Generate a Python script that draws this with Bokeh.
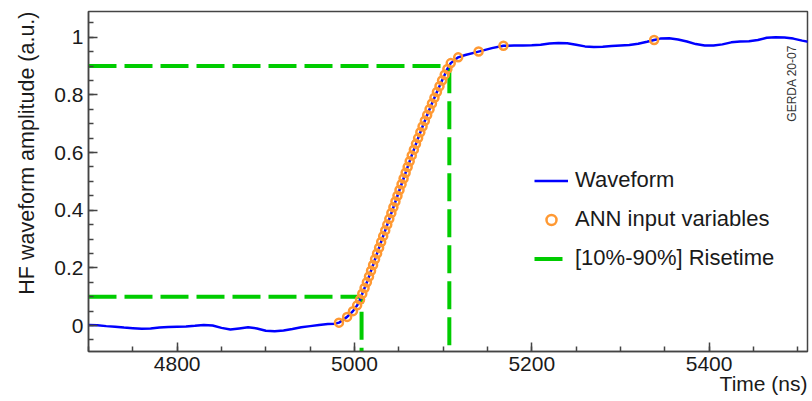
import math
from bokeh.plotting import figure
from bokeh.models import FixedTicker, Label, Legend, LegendItem, Range1d, Title
from bokeh.embed import file_html
from bokeh.resources import INLINE

# ---------------- data ----------------
# baseline part of the waveform (time in ns, normalised amplitude)
base_t = [4700, 4710, 4720, 4730, 4740, 4750, 4760, 4770, 4780, 4790,
          4800, 4810, 4820, 4830, 4840, 4850, 4860, 4870, 4880, 4890,
          4900, 4910, 4920, 4930, 4940, 4950, 4960, 4970, 4978]
base_v = [0.002, 0.001, -0.002, -0.004, -0.007, -0.009, -0.011, -0.010, -0.007, -0.005,
          -0.004, -0.003, -0.001, 0.002, 0.000, -0.008, -0.014, -0.010, -0.006, -0.010,
          -0.018, -0.020, -0.017, -0.012, -0.006, -0.002, 0.002, 0.005, 0.006]

# flat top part of the waveform
top_t = [5125, 5155, 5180, 5190, 5200, 5210, 5220, 5230, 5240, 5250,
         5260, 5270, 5280, 5290, 5300, 5310, 5320, 5330, 5345, 5355,
         5365, 5375, 5385, 5395, 5405, 5415, 5425, 5435, 5445, 5455,
         5465, 5475, 5485, 5495, 5505, 5512]
top_v = [0.938, 0.962, 0.971, 0.971, 0.972, 0.974, 0.978, 0.980, 0.979, 0.974,
         0.968, 0.966, 0.967, 0.969, 0.971, 0.973, 0.977, 0.984, 0.995, 0.996,
         0.992, 0.985, 0.976, 0.971, 0.971, 0.975, 0.982, 0.985, 0.986, 0.990,
         0.998, 1.000, 0.999, 0.995, 0.988, 0.984]

# ANN input variables: times where the pulse reaches 1%, 3%, ..., 99%
ann_v = [0.01, 0.03, 0.05, 0.07, 0.09, 0.11, 0.13, 0.15, 0.17, 0.19,
         0.21, 0.23, 0.25, 0.27, 0.29, 0.31, 0.33, 0.35, 0.37, 0.39,
         0.41, 0.43, 0.45, 0.47, 0.49, 0.51, 0.53, 0.55, 0.57, 0.59,
         0.61, 0.63, 0.65, 0.67, 0.69, 0.71, 0.73, 0.75, 0.77, 0.79,
         0.81, 0.83, 0.85, 0.87, 0.89, 0.91, 0.93, 0.95, 0.97, 0.99]
ann_t = [4982.5, 4991.7, 4998.3, 5003.0, 5006.3, 5008.8, 5011.4, 5014.0, 5016.4, 5018.7,
         5021.0, 5023.2, 5025.5, 5027.8, 5030.1, 5032.4, 5034.7, 5037.0, 5039.3, 5041.6,
         5043.9, 5046.2, 5048.5, 5050.8, 5053.1, 5055.4, 5057.7, 5060.0, 5062.3, 5064.6,
         5067.0, 5069.4, 5071.8, 5074.3, 5076.8, 5079.4, 5082.0, 5084.7, 5087.4, 5090.2,
         5093.0, 5095.9, 5098.8, 5101.8, 5104.8, 5108.6, 5117.0, 5140.0, 5168.0, 5338.0]

# 10% and 90% risetime points
rise_level = [0.1, 0.9]
rise_t = [5008, 5107]

x_major = [4800, 5000, 5200, 5400]
x_minor = [4700, 4750, 4800, 4850, 4900, 4950, 5000, 5050, 5100, 5150,
           5200, 5250, 5300, 5350, 5400, 5450, 5500]
y_major = [0, 0.2, 0.4, 0.6, 0.8, 1]
y_labels = ["0", "0.2", "0.4", "0.6", "0.8", "1"]
y_minor = [-0.05, 0, 0.05, 0.1, 0.15, 0.2, 0.25, 0.3, 0.35, 0.4, 0.45, 0.5,
           0.55, 0.6, 0.65, 0.7, 0.75, 0.8, 0.85, 0.9, 0.95, 1.0, 1.05]

X_START, X_END = 4700, 5511
Y_START, Y_END = -0.09, 1.089

# ---------------- figure ----------------
FONT = "Liberation Sans"
TXT = "#1a1a1a"
FRAME = "#444444"

p = figure(width=810, height=399,
           x_range=Range1d(X_START, X_END), y_range=Range1d(Y_START, Y_END),
           output_backend="svg", toolbar_location=None,
           min_border_left=87, min_border_right=3,
           min_border_top=11, min_border_bottom=48)
p.grid.visible = False
p.outline_line_color = FRAME
p.outline_line_width = 1.5
p.background_fill_color = "white"
p.border_fill_color = "white"

for ax in (p.xaxis, p.yaxis):
    ax.axis_line_color = FRAME
    ax.axis_line_width = 1.5
    ax.major_tick_line_color = FRAME
    ax.minor_tick_line_color = FRAME
    ax.major_tick_line_width = 1.5
    ax.minor_tick_line_width = 1.5
    ax.major_tick_in = 9
    ax.major_tick_out = 0
    ax.minor_tick_in = 5
    ax.minor_tick_out = 0
    ax.major_label_text_font = FONT
    ax.major_label_text_font_size = "21px"
    ax.major_label_text_color = TXT
    ax.major_label_standoff = 5

p.xaxis.ticker = FixedTicker(ticks=x_major, minor_ticks=x_minor)
p.yaxis.ticker = FixedTicker(ticks=y_major, minor_ticks=y_minor)
p.yaxis.major_label_overrides = {v: s for v, s in zip(y_major, y_labels)}

# risetime lines
xs = [[X_START, t, t] for t in rise_t]
ys = [[lv, lv, Y_START] for lv in rise_level]
r_rise = p.multi_line(xs, ys, line_color="#00cc00", line_width=4, line_dash="28 8")

# waveform
pts = sorted(zip(base_t + ann_t + top_t, base_v + ann_v + top_v))
r_wave = p.line([a for a, _ in pts], [b for _, b in pts], line_color="#0000ff", line_width=2.5)

# ANN markers
r_ann = p.scatter(ann_t, ann_v, marker="circle", size=8, fill_color=None,
                  line_color="#ff9933", line_width=2.5)

legend = Legend(items=[LegendItem(label="Waveform", renderers=[r_wave]),
                       LegendItem(label="ANN input variables", renderers=[r_ann]),
                       LegendItem(label="[10%-90%] Risetime", renderers=[r_rise])],
                location=(446, 80), padding=0, margin=0, spacing=13,
                glyph_width=34, glyph_height=25, label_height=25, label_standoff=7,
                label_text_font=FONT, label_text_font_size="22px", label_text_color=TXT,
                background_fill_alpha=0, border_line_alpha=0)
p.add_layout(legend)

p.add_layout(Title(text="Time (ns)", align="right", standoff=-8, text_font=FONT,
                   text_font_size="21px", text_font_style="normal", text_color=TXT),
             "below")
p.add_layout(Title(text="HF waveform amplitude (a.u.)", align="right", standoff=25,
                   text_font=FONT, text_font_size="21.5px", text_font_style="normal",
                   text_color=TXT),
             "left")
p.add_layout(Label(x=5493, y=0.84, text="GERDA 20-07", angle=math.pi / 2,
                   text_align="center", text_baseline="middle", text_font=FONT,
                   text_font_size="12px", text_color="#333333"))

open("out.html", "w").write(file_html(p, INLINE))
